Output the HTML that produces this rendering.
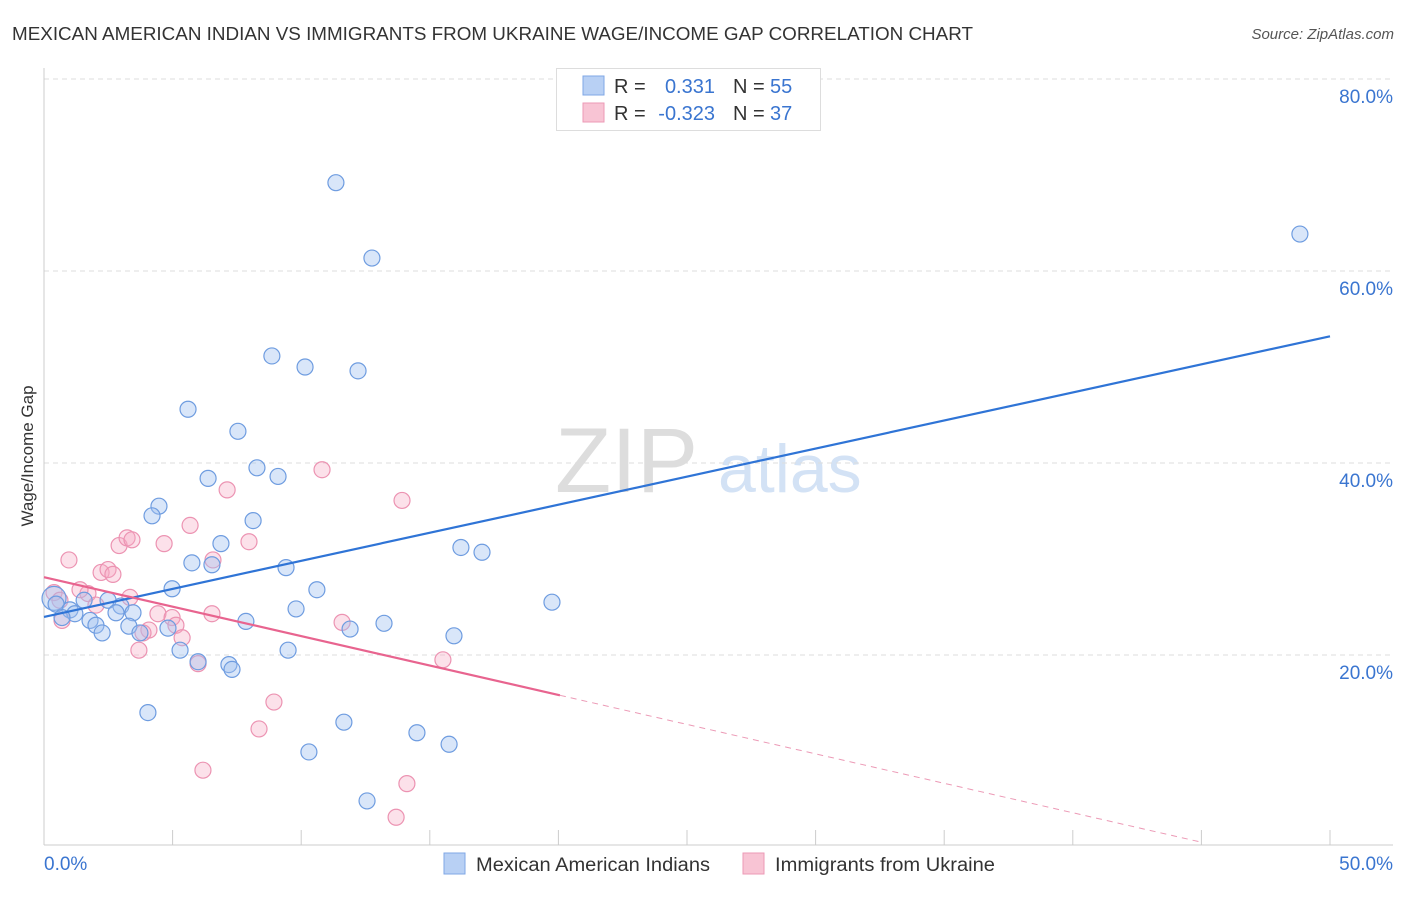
<!DOCTYPE html>
<html><head><meta charset="utf-8"><style>
body{margin:0;background:#fff;font-family:"Liberation Sans",sans-serif;}
svg text{font-family:"Liberation Sans",sans-serif;}
</style></head><body>
<svg id="chart" width="1406" height="892" xmlns="http://www.w3.org/2000/svg">
<text x="12" y="40" font-size="18.5" fill="#333" textLength="961" lengthAdjust="spacingAndGlyphs">MEXICAN AMERICAN INDIAN VS IMMIGRANTS FROM UKRAINE WAGE/INCOME GAP CORRELATION CHART</text>
<text x="1394" y="39" font-size="15" fill="#555" font-style="italic" text-anchor="end">Source: ZipAtlas.com</text>
<text x="33" y="456" font-size="17" fill="#333" text-anchor="middle" transform="rotate(-90 33 456)">Wage/Income Gap</text>
<g><text x="555" y="492" font-size="92" fill="#ddd" font-family="Liberation Serif">ZIP</text><text x="718" y="492" font-size="68" fill="#d3e2f5">atlas</text></g>
<g id="grid"></g><g id="axes"></g><g id="marks"></g>
<g>
<rect x="556.5" y="68.5" width="264" height="62" fill="#fff" stroke="#ddd"/>
<rect x="583" y="76" width="21" height="19" fill="#b8d0f4" stroke="#7fa7e6"/>
<rect x="583" y="103" width="21" height="19" fill="#f8c4d4" stroke="#ec9ab6"/>
<text y="93" font-size="20" fill="#333"><tspan x="614">R =</tspan><tspan x="715" text-anchor="end" fill="#3a75d0">0.331</tspan><tspan x="733">N =</tspan><tspan x="770" fill="#3a75d0">55</tspan></text>
<text y="120" font-size="20" fill="#333"><tspan x="614">R =</tspan><tspan x="715" text-anchor="end" fill="#3a75d0">-0.323</tspan><tspan x="733">N =</tspan><tspan x="770" fill="#3a75d0">37</tspan></text>
</g>
<g>
<rect x="444" y="853" width="21" height="21" fill="#b8d0f4" stroke="#7fa7e6"/>
<text x="476" y="871" font-size="19" fill="#333" textLength="234" lengthAdjust="spacingAndGlyphs">Mexican American Indians</text>
<rect x="743" y="853" width="21" height="21" fill="#f8c4d4" stroke="#ec9ab6"/>
<text x="775" y="871" font-size="19" fill="#333" textLength="220" lengthAdjust="spacingAndGlyphs">Immigrants from Ukraine</text>
</g>
</svg>
<script>
const yTicks=[20,40,60,80];
const yTickLabels=["20.0%","40.0%","60.0%","80.0%"];
const xTicks=[0,5,10,15,20,25,30,35,40,45,50];
const blueX=[11.35,12.75,48.83,8.86,10.15,12.21,5.6,7.54,8.28,9.1,6.38,4.47,4.2,8.13,6.88,16.21,17.03,5.75,6.53,9.41,4.98,10.61,19.75,9.8,0.39,0.47,1.01,1.56,2.49,2.99,3.46,1.2,0.7,1.79,2.02,2.26,2.8,3.3,3.73,4.82,7.85,11.9,13.22,15.94,5.29,9.49,5.99,7.19,7.31,4.04,11.66,14.5,15.75,10.3,12.56];
const blueY=[69.2,61.35,63.85,51.15,50.0,49.6,45.6,43.3,39.5,38.6,38.4,35.5,34.5,34.0,31.6,31.2,30.7,29.6,29.4,29.1,26.9,26.8,25.5,24.8,25.9,25.3,24.7,25.7,25.7,25.1,24.4,24.3,23.9,23.6,23.1,22.3,24.4,23.0,22.3,22.8,23.5,22.7,23.3,22.0,20.5,20.5,19.3,19.0,18.5,14.0,13.0,11.9,10.7,9.9,4.8];
const pinkX=[0.39,0.62,0.7,0.97,1.71,1.4,2.02,2.22,2.49,2.68,2.92,3.23,3.42,4.67,5.68,7.12,6.57,7.97,4.43,4.98,5.13,4.08,3.85,3.69,5.37,6.53,5.99,10.81,13.92,11.59,15.51,8.94,8.36,6.18,14.11,13.69,3.34];
const pinkY=[26.5,25.7,23.6,29.9,26.4,26.8,25.2,28.6,28.9,28.4,31.4,32.2,32.0,31.6,33.5,37.2,29.9,31.8,24.3,23.9,23.1,22.6,22.3,20.5,21.8,24.3,19.1,39.3,36.1,23.4,19.5,15.1,12.3,8.0,6.6,3.1,26.0];
const blueTrend=[[0,23.96],[50,53.2]];
const pinkTrendSolid=[[0,28.1],[20.06,15.8]];
const pinkTrendDash=[[20.06,15.8],[45,0.5]];

const NS="http://www.w3.org/2000/svg";
const X0=44,X1=1330,Y0=847,PPY=9.6;
const sx=v=>X0+(X1-X0)*v/50;
const sy=v=>Y0-v*PPY;
function mk(tag,attrs,parent){const e=document.createElementNS(NS,tag);for(const k in attrs)e.setAttribute(k,attrs[k]);document.getElementById(parent).appendChild(e);return e;}
yTicks.forEach((t,i)=>{
 const g=mk('line',{x1:44,x2:1393,y1:sy(t),y2:sy(t),stroke:'#ddd','stroke-dasharray':'5,4'},'grid');
 
 
 const l=mk('text',{x:1393,y:sy(t)+24,'font-size':19,fill:'#3a75d0','text-anchor':'end'},'grid');
 l.textContent=yTickLabels[i];
 
 
});
const ax=mk('line',{x1:44,x2:44,y1:68,y2:845,stroke:'#ccc'},'axes');


const bx=mk('line',{x1:44,x2:1393,y1:845,y2:845,stroke:'#ccc'},'axes');


xTicks.forEach(t=>{
 const tk=mk('line',{x1:sx(t),x2:sx(t),y1:830,y2:845,stroke:'#ccc'},'axes');
 
 
});
const xl0=mk('text',{x:44,y:870,'font-size':19,fill:'#3a75d0'},'axes');xl0.textContent='0.0%';


const xl1=mk('text',{x:1393,y:870,'font-size':19,fill:'#3a75d0','text-anchor':'end'},'axes');xl1.textContent='50.0%';



pinkX.forEach((v,i)=>{
 const c=mk('circle',{cx:sx(v),cy:sy(pinkY[i]),r:8,fill:'rgba(245,170,195,0.35)',stroke:'#ec93b2','stroke-width':1.2},'marks');
 
 
});
blueX.forEach((v,i)=>{
 const c=mk('circle',{cx:sx(v),cy:sy(blueY[i]),r:(i==24?12:8),fill:'rgba(160,192,240,0.4)',stroke:'#6e9ce0','stroke-width':1.2},'marks');
 
 
});
const bt=mk('line',{x1:sx(blueTrend[0][0]),y1:sy(blueTrend[0][1]),x2:sx(blueTrend[1][0]),y2:sy(blueTrend[1][1]),stroke:'#2f74d6','stroke-width':2.2},'marks');


const pt=mk('line',{x1:sx(pinkTrendSolid[0][0]),y1:sy(pinkTrendSolid[0][1]),x2:sx(pinkTrendSolid[1][0]),y2:sy(pinkTrendSolid[1][1]),stroke:'#e8648f','stroke-width':2.2},'marks');


const pd=mk('line',{x1:sx(pinkTrendDash[0][0]),y1:sy(pinkTrendDash[0][1]),x2:sx(pinkTrendDash[1][0]),y2:sy(pinkTrendDash[1][1]),stroke:'#ec9ab6','stroke-width':1,'stroke-dasharray':'6,5'},'marks');


</script>
</body></html>
